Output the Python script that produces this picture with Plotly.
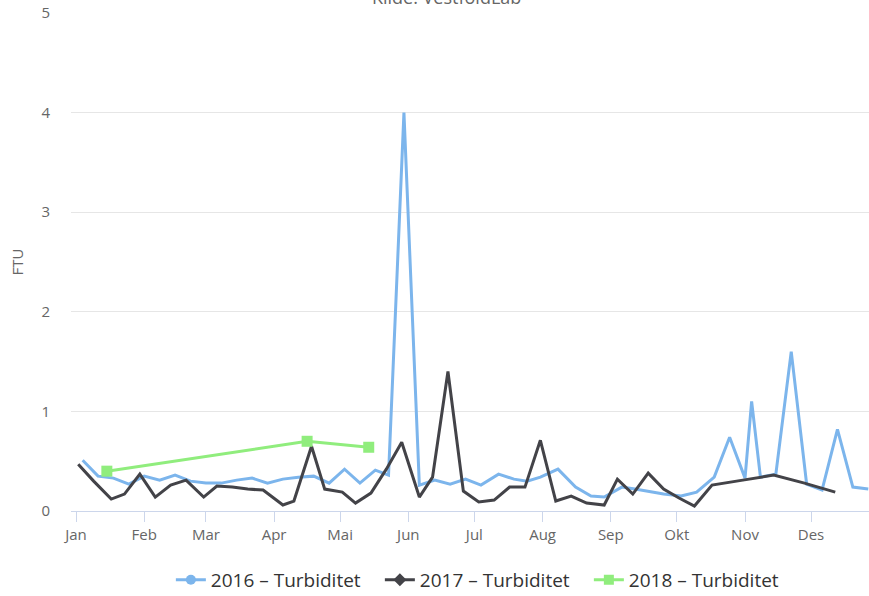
import plotly.graph_objects as go

# 2016 - Turbiditet (plotted on a common-year date axis)
dates_2016 = ["2017-01-04", "2017-01-11", "2017-01-18", "2017-01-25", "2017-02-01", "2017-02-08",
              "2017-02-15", "2017-02-22", "2017-03-01", "2017-03-08", "2017-03-15", "2017-03-22",
              "2017-03-29", "2017-04-05", "2017-04-12", "2017-04-19", "2017-04-26", "2017-05-03",
              "2017-05-10", "2017-05-17", "2017-05-23", "2017-05-30", "2017-06-06", "2017-06-13",
              "2017-06-20", "2017-06-27", "2017-07-04", "2017-07-12", "2017-07-19", "2017-07-25",
              "2017-07-31", "2017-08-08", "2017-08-16", "2017-08-23", "2017-08-29", "2017-09-06",
              "2017-09-12", "2017-09-19", "2017-09-25", "2017-10-03", "2017-10-10", "2017-10-18",
              "2017-10-25", "2017-11-01", "2017-11-04", "2017-11-08", "2017-11-15", "2017-11-22",
              "2017-11-29", "2017-12-06", "2017-12-13", "2017-12-20", "2017-12-27"]
values_2016 = [0.51, 0.35, 0.33, 0.27, 0.35, 0.31, 0.36, 0.30, 0.28, 0.28, 0.31, 0.33,
               0.28, 0.32, 0.34, 0.35, 0.28, 0.42, 0.28, 0.41, 0.36, 4.0, 0.26, 0.31,
               0.27, 0.32, 0.26, 0.37, 0.32, 0.30, 0.34, 0.42, 0.24, 0.15, 0.14, 0.24,
               0.22, 0.19, 0.17, 0.15, 0.19, 0.34, 0.74, 0.33, 1.10, 0.34, 0.37, 1.60,
               0.27, 0.21, 0.82, 0.24, 0.22]

# 2017 - Turbiditet
dates_2017 = ["2017-01-02", "2017-01-09", "2017-01-17", "2017-01-23", "2017-01-30", "2017-02-06",
              "2017-02-13", "2017-02-20", "2017-02-28", "2017-03-06", "2017-03-13", "2017-03-20",
              "2017-03-27", "2017-04-05", "2017-04-10", "2017-04-18", "2017-04-24", "2017-05-02",
              "2017-05-08", "2017-05-15", "2017-05-22", "2017-05-29", "2017-06-06", "2017-06-12",
              "2017-06-19", "2017-06-26", "2017-07-03", "2017-07-10", "2017-07-17", "2017-07-24",
              "2017-07-31", "2017-08-07", "2017-08-14", "2017-08-21", "2017-08-29", "2017-09-04",
              "2017-09-11", "2017-09-18", "2017-09-25", "2017-10-02", "2017-10-09", "2017-10-17",
              "2017-10-31", "2017-11-14", "2017-11-28", "2017-12-12"]
values_2017 = [0.47, 0.30, 0.12, 0.17, 0.37, 0.14, 0.26, 0.31, 0.14, 0.25, 0.24, 0.22,
               0.21, 0.06, 0.10, 0.65, 0.22, 0.19, 0.08, 0.18, 0.42, 0.69, 0.14, 0.34,
               1.40, 0.20, 0.09, 0.11, 0.24, 0.24, 0.71, 0.10, 0.15, 0.08, 0.06, 0.32,
               0.17, 0.38, 0.22, 0.13, 0.05, 0.26, 0.31, 0.36, 0.28, 0.19]

# 2018 - Turbiditet
dates_2018 = ["2017-01-15", "2017-04-16", "2017-05-14"]
values_2018 = [0.40, 0.70, 0.64]

series_names = ["2016 – Turbiditet", "2017 – Turbiditet", "2018 – Turbiditet"]
month_ticks = ["2017-01-01", "2017-02-01", "2017-03-01", "2017-04-01", "2017-05-01", "2017-06-01",
               "2017-07-01", "2017-08-01", "2017-09-01", "2017-10-01", "2017-11-01", "2017-12-01"]
month_labels = ["Jan", "Feb", "Mar", "Apr", "Mai", "Jun", "Jul", "Aug", "Sep", "Okt", "Nov", "Des"]
y_ticks = [0, 1, 2, 3, 4, 5]

colors = ["#7cb5ec", "#434348", "#90ed7d"]
symbols = ["circle", "diamond", "square"]
FONT = "Open Sans, DejaVu Sans, sans-serif"

fig = go.Figure()
fig.add_trace(go.Scatter(x=dates_2016, y=values_2016, mode="lines",
                         line=dict(color=colors[0], width=3), showlegend=False))
fig.add_trace(go.Scatter(x=dates_2017, y=values_2017, mode="lines",
                         line=dict(color=colors[1], width=3), showlegend=False))
fig.add_trace(go.Scatter(x=dates_2018, y=values_2018, mode="lines+markers",
                         line=dict(color=colors[2], width=3),
                         marker=dict(symbol="square", size=11, color=colors[2]),
                         showlegend=False))
# legend entries
for name, c, s in zip(series_names, colors, symbols):
    fig.add_trace(go.Scatter(x=[None], y=[None], mode="lines+markers", name=name,
                             line=dict(color=c, width=3),
                             marker=dict(symbol=s, size=10, color=c)))

fig.update_layout(
    width=869, height=596,
    margin=dict(l=71, r=0, t=13, b=85, autoexpand=False),
    paper_bgcolor="white", plot_bgcolor="white",
    font=dict(family=FONT, color="#666666"),
    showlegend=True,
    legend=dict(orientation="h", x=0.518, xanchor="center", yref="container",
                y=0.027, yanchor="middle",
                font=dict(size=19, color="#333333"), itemwidth=30, tracegroupgap=0,
                entrywidth=164, entrywidthmode="pixels"),
    annotations=[dict(text="Kilde: VestfoldLab", xref="paper", yref="paper", x=0.471, y=1.004,
                      xanchor="center", yanchor="bottom", showarrow=False,
                      font=dict(size=18, color="#666666"))],
)
fig.update_xaxes(
    type="date", automargin=False,
    range=["2016-12-29 17:00", "2017-12-27 08:00"],
    tickvals=month_ticks, ticktext=month_labels,
    ticks="outside", ticklen=10, tickcolor="#ccd6eb", tickwidth=1,
    showline=True, linecolor="#ccd6eb", linewidth=1,
    showgrid=False, zeroline=False,
    tickfont=dict(size=15, color="#666666"),
)
fig.update_yaxes(
    range=[0, 5], tickvals=y_ticks, automargin=False,
    showgrid=True, gridcolor="#e6e6e6", gridwidth=1,
    zeroline=False, showline=False,
    tickfont=dict(size=15, color="#666666"),
    ticklabelstandoff=20,
    title=dict(text="FTU", font=dict(size=15, color="#666666"), standoff=14),
)

fig.write_html("out.html", config={"displayModeBar": False},
               post_script="document.body.style.margin='0px';document.body.style.overflow='hidden';")
